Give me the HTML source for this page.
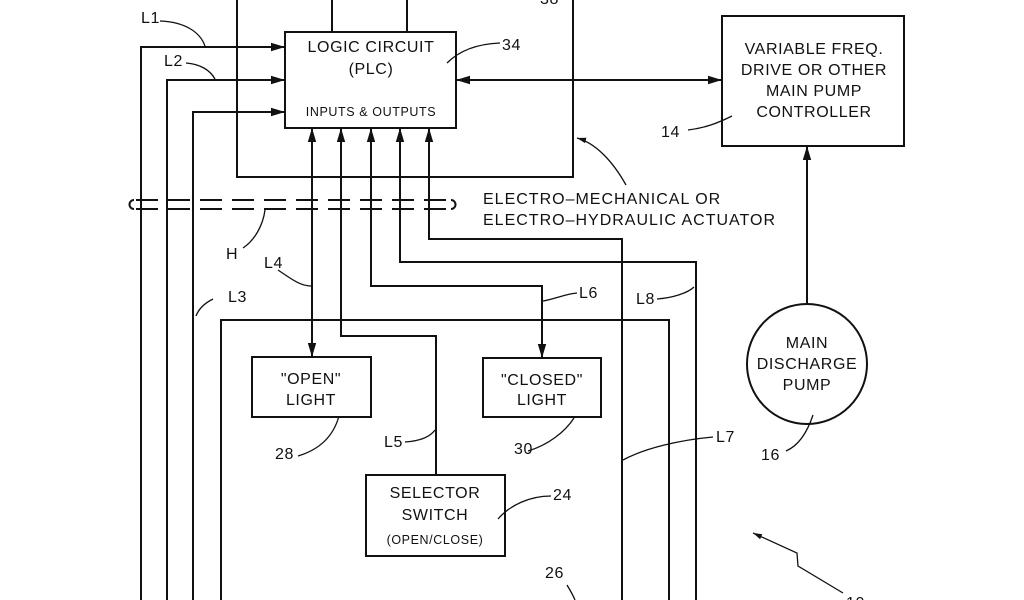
<!DOCTYPE html>
<html><head><meta charset="utf-8"><style>
html,body{margin:0;padding:0;background:#fff;}
svg{display:block;}
text{font-family:"Liberation Sans",sans-serif;fill:#111;}
</style></head><body>
<svg width="1024" height="600" viewBox="0 0 1024 600" xmlns="http://www.w3.org/2000/svg">
<defs>
<marker id="a" viewBox="0 0 10 10" refX="10" refY="5" markerWidth="7" markerHeight="7" orient="auto-start-reverse"><path d="M0,2 L10,5 L0,8 z" fill="#111"/></marker>
</defs>
<g stroke="#111" stroke-width="2" fill="none">
<path d="M237,0 V177 H573 V0"/>
<rect x="285" y="32" width="171" height="96" fill="#fff"/>
<path d="M332,0 V32 M407,0 V32"/>
<path d="M141,600 V47 H285" marker-end="url(#a)"/>
<path d="M167,600 V80 H285" marker-end="url(#a)"/>
<path d="M193,600 V112 H285" marker-end="url(#a)"/>
<path d="M312,357 V128" marker-start="url(#a)" marker-end="url(#a)"/>
<path d="M436,475 V336 H341 V128" marker-end="url(#a)"/>
<path d="M542,358 V286 H371 V128" marker-start="url(#a)" marker-end="url(#a)"/>
<path d="M696,600 V262 H400 V128" marker-end="url(#a)"/>
<path d="M622,600 V239 H429 V128" marker-end="url(#a)"/>
<path d="M221,600 V320 H669 V600"/>
<rect x="252" y="357" width="119" height="60" fill="#fff"/>
<rect x="483" y="358" width="118" height="59" fill="#fff"/>
<rect x="366" y="475" width="139" height="81" fill="#fff"/>
<rect x="722" y="16" width="182" height="130"/>
<path d="M456,80 H722" marker-start="url(#a)" marker-end="url(#a)"/>
<circle cx="807" cy="364" r="60"/>
<path d="M807,304 V146" marker-end="url(#a)"/>
</g>
<g stroke="#111" stroke-width="2" fill="none">
<path d="M136,200 H448" stroke-dasharray="22,10"/>
<path d="M136,209 H448" stroke-dasharray="22,10"/>
<path d="M134,200 A4.5,4.5 0 0 0 134,209"/>
<path d="M451,200 A4.5,4.5 0 0 1 451,209"/>
</g>
<g stroke="#111" stroke-width="1.3" fill="none">
<path d="M160,21 C185,22 200,32 205,46"/>
<path d="M186,63 C200,64 210,70 215,79"/>
<path d="M500,43 C475,44 458,52 447,63"/>
<path d="M688,130 C705,128 718,123 732,116"/>
<path d="M626,185 C612,160 595,143 577,138" marker-end="url(#a)"/>
<path d="M243,248 C255,240 263,225 265,210"/>
<path d="M278,270 C290,278 300,286 311,286"/>
<path d="M213,299 C205,303 199,308 196,316"/>
<path d="M577,293 C565,294 552,300 543,301"/>
<path d="M657,299 C672,298 688,293 694,287"/>
<path d="M713,437 C680,440 645,448 623,460"/>
<path d="M298,456 C318,450 333,438 339,416"/>
<path d="M528,451 C548,445 565,432 574,418"/>
<path d="M405,442 C420,441 430,437 435,430"/>
<path d="M551,496 C530,496 510,505 498,519"/>
<path d="M786,451 C800,445 808,430 813,415"/>
<path d="M567,585 C570,590 573,595 575,600"/>
<path d="M843,593 L798,566 L797,553 L753,533" marker-end="url(#a)"/>
</g>
<g font-size="16" letter-spacing="0.6">
<text x="371" y="52" text-anchor="middle">LOGIC CIRCUIT</text>
<text x="371" y="74" text-anchor="middle">(PLC)</text>
<text x="371" y="116" text-anchor="middle" font-size="12.5">INPUTS &amp; OUTPUTS</text>
<text x="814" y="54" text-anchor="middle">VARIABLE FREQ.</text>
<text x="814" y="75" text-anchor="middle">DRIVE OR OTHER</text>
<text x="814" y="96" text-anchor="middle">MAIN PUMP</text>
<text x="814" y="117" text-anchor="middle">CONTROLLER</text>
<text x="807" y="348" text-anchor="middle">MAIN</text>
<text x="807" y="369" text-anchor="middle">DISCHARGE</text>
<text x="807" y="390" text-anchor="middle">PUMP</text>
<text x="311" y="384" text-anchor="middle">"OPEN"</text>
<text x="311" y="405" text-anchor="middle">LIGHT</text>
<text x="542" y="385" text-anchor="middle">"CLOSED"</text>
<text x="542" y="405" text-anchor="middle">LIGHT</text>
<text x="435" y="498" text-anchor="middle">SELECTOR</text>
<text x="435" y="520" text-anchor="middle">SWITCH</text>
<text x="435" y="544" text-anchor="middle" font-size="12.5">(OPEN/CLOSE)</text>
<text x="483" y="204" letter-spacing="1">ELECTRO–MECHANICAL OR</text>
<text x="483" y="225" letter-spacing="1">ELECTRO–HYDRAULIC ACTUATOR</text>
<text x="141" y="23">L1</text>
<text x="164" y="66">L2</text>
<text x="228" y="302">L3</text>
<text x="264" y="268">L4</text>
<text x="226" y="259">H</text>
<text x="384" y="447">L5</text>
<text x="579" y="298">L6</text>
<text x="636" y="304">L8</text>
<text x="716" y="442">L7</text>
<text x="502" y="50">34</text>
<text x="540" y="4">38</text>
<text x="661" y="137">14</text>
<text x="275" y="459">28</text>
<text x="514" y="454">30</text>
<text x="553" y="500">24</text>
<text x="545" y="578">26</text>
<text x="761" y="460">16</text>
<text x="846" y="608">10</text>
</g>
</svg>
</body></html>
